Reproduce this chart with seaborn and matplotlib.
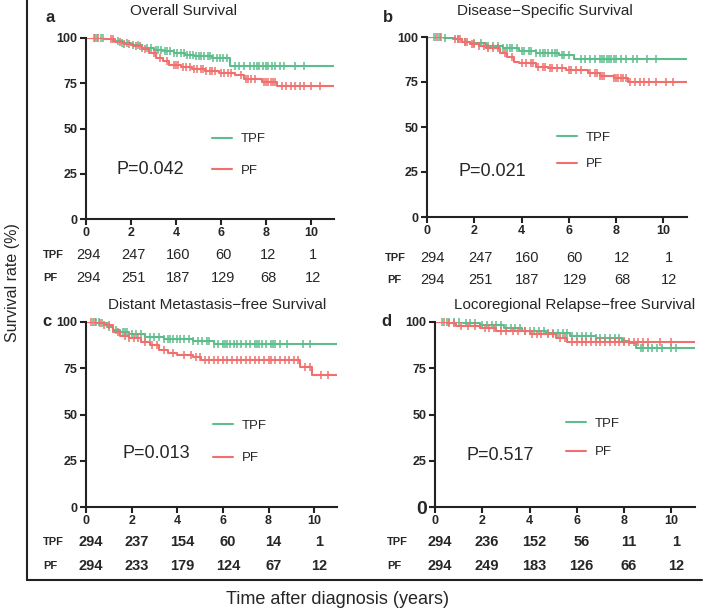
import numpy as np
import matplotlib
matplotlib.use("Agg")
import matplotlib.pyplot as plt
import matplotlib.transforms as mtransforms
from matplotlib.lines import Line2D
import seaborn as sns

sns.set_theme(style="ticks")
plt.rcParams['font.family'] = ['Liberation Sans', 'DejaVu Sans']

# ---- data ----
groups = ["TPF", "PF"]
risk_times = [0, 2, 4, 6, 8, 10]

# (a) Overall survival
a_tpf_t = [0, 0.8, 1.2, 1.6, 2.0, 2.5, 3.0, 3.4, 3.9, 4.4, 4.8, 5.6, 6.4]
a_tpf_s = [100, 99.3, 98.2, 97.0, 96.0, 94.5, 93.6, 92.8, 91.8, 90.6, 89.8, 89.2, 84.5]
a_pf_t = [0, 0.9, 1.3, 1.7, 2.1, 2.5, 2.8, 3.1, 3.4, 3.7, 4.2, 4.7, 5.3, 5.9, 6.6, 7.0, 7.8, 8.5]
a_pf_s = [100, 99.2, 98.0, 96.8, 95.5, 93.8, 91.5, 89.2, 87.2, 85.2, 84.2, 82.8, 81.8, 80.8, 79.4, 77.6, 75.8, 73.6]
a_tpf_cens = [0.35, 0.5, 0.65, 0.75, 1.4, 1.6, 1.8, 2.1, 2.3, 2.5, 2.7, 2.9, 3.1, 3.2, 3.35, 3.5,
              3.6, 3.75, 3.9, 4.05, 4.2, 4.35, 4.5, 4.6, 4.75, 4.9, 5.0, 5.1, 5.25, 5.4, 5.5, 5.65,
              5.8, 5.95, 6.1, 6.25, 6.6, 6.8, 7.0, 7.3, 7.45, 7.6, 7.7, 7.85, 8.0, 8.1, 8.25, 8.4,
              8.6, 8.8, 9.3, 9.7]
a_pf_cens = [0.4, 0.55, 1.1, 1.2, 1.5, 1.7, 1.9, 2.2, 2.4, 2.6, 3.0, 3.3, 3.6, 3.9, 4.0, 4.1,
             4.3, 4.45, 4.6, 4.8, 4.95, 5.1, 5.2, 5.35, 5.5, 5.6, 5.75, 6.0, 6.15, 6.3, 6.45, 6.9,
             7.1, 7.2, 7.35, 7.5, 7.9, 8.0, 8.1, 8.2, 8.3, 8.4, 8.7, 8.9, 9.1, 9.3, 9.5, 9.7,
             10.0, 10.4]
a_risk_tpf = [294, 247, 160, 60, 12, 1]
a_risk_pf = [294, 251, 187, 129, 68, 12]

# (b) Disease-specific survival
b_tpf_t = [0, 0.7, 1.1, 1.5, 1.8, 2.5, 3.2, 3.9, 4.6, 5.6, 6.2]
b_tpf_s = [100, 99.3, 98.7, 97.5, 96.5, 95.0, 93.7, 92.4, 91.0, 90.0, 87.6]
b_pf_t = [0, 1.2, 1.5, 1.8, 2.2, 2.5, 3.1, 3.4, 3.7, 3.9, 4.6, 5.1, 5.9, 6.8, 7.3, 7.9, 8.5]
b_pf_s = [100, 98.8, 97.4, 96.1, 95.0, 93.7, 91.0, 89.1, 86.3, 85.4, 83.5, 82.6, 81.7, 79.8, 78.5, 77.0, 74.8]
b_tpf_cens = [0.3, 0.45, 0.6, 0.75, 1.3, 1.6, 2.0, 2.3, 2.6, 2.8, 3.0, 3.2, 3.4, 3.5, 3.6, 3.8,
              4.0, 4.1, 4.3, 4.4, 4.6, 4.8, 4.9, 5.0, 5.1, 5.3, 5.4, 5.5, 5.7, 5.8, 6.0, 6.5, 6.7,
              6.9, 7.1, 7.3, 7.4, 7.5, 7.6, 7.7, 7.8, 7.9, 8.0, 8.2, 8.4, 8.7, 8.9, 9.3, 9.7]
b_pf_cens = [0.4, 0.55, 1.2, 1.3, 1.4, 1.6, 1.7, 1.9, 2.0, 2.2, 2.4, 2.6, 2.8, 3.0, 3.3, 3.6,
             4.0, 4.2, 4.4, 4.5, 4.7, 4.9, 5.0, 5.2, 5.3, 5.5, 5.7, 6.0, 6.1, 6.3, 6.5, 6.9, 7.1,
             7.2, 7.3, 7.4, 7.5, 7.9, 8.0, 8.1, 8.2, 8.3, 8.4, 8.6, 8.8, 9.0, 9.2, 9.4, 9.7,
             10.1, 10.4]
b_risk_tpf = [294, 247, 160, 60, 12, 1]
b_risk_pf = [294, 251, 187, 129, 68, 12]

# (c) Distant metastasis-free survival
c_tpf_t = [0, 0.6, 0.9, 1.2, 1.5, 1.9, 2.6, 3.4, 4.7, 5.6]
c_tpf_s = [100, 99.3, 97.5, 95.7, 94.4, 93.3, 92.1, 90.8, 89.9, 88.3]
c_pf_t = [0, 0.5, 0.8, 1.2, 1.5, 1.9, 2.4, 2.8, 3.2, 3.6, 4.0, 4.7, 5.05, 9.4, 9.9]
c_pf_s = [100, 99.4, 98.4, 94.8, 92.6, 91.2, 89.4, 87.6, 84.9, 83.5, 82.3, 81.3, 79.5, 75.9, 71.4]
c_tpf_cens = [0.3, 0.45, 0.55, 0.7, 1.0, 1.3, 1.6, 1.7, 1.8, 2.0, 2.2, 2.4, 2.6, 2.8, 3.0, 3.2,
              3.4, 3.6, 3.7, 3.8, 4.0, 4.1, 4.3, 4.5, 4.7, 4.9, 5.1, 5.3, 5.4, 5.6, 5.8, 6.0, 6.1,
              6.2, 6.3, 6.5, 6.6, 6.8, 7.0, 7.2, 7.4, 7.5, 7.6, 7.7, 7.9, 8.1, 8.2, 8.3, 8.5, 8.8,
              9.5, 9.8]
c_pf_cens = [0.2, 0.4, 0.6, 0.8, 1.0, 1.4, 1.7, 1.9, 2.1, 2.3, 2.6, 2.9, 3.1, 3.4, 3.8, 4.3,
             4.6, 4.8, 5.0, 5.2, 5.4, 5.6, 5.8, 6.0, 6.2, 6.4, 6.6, 6.8, 7.0, 7.2, 7.4, 7.6, 7.8,
             8.0, 8.1, 8.3, 8.5, 8.7, 8.9, 9.1, 9.3, 9.6, 9.8, 10.3, 10.6]
c_risk_tpf = [294, 237, 154, 60, 14, 1]
c_risk_pf = [294, 233, 179, 124, 67, 12]

# (d) Locoregional relapse-free survival
d_tpf_t = [0, 1.2, 1.9, 2.9, 3.7, 4.7, 5.7, 6.8, 7.9, 8.2, 8.5]
d_tpf_s = [100, 99.6, 98.4, 96.6, 95.1, 93.9, 92.4, 91.2, 89.7, 88.5, 86.0]
d_pf_t = [0, 0.5, 0.9, 1.9, 2.6, 4.0, 5.1, 5.6]
d_pf_s = [100, 99.3, 97.8, 96.6, 95.1, 93.3, 91.5, 89.4]
d_tpf_cens = [0.3, 0.5, 0.6, 0.8, 1.0, 1.3, 1.5, 1.7, 2.0, 2.2, 2.4, 2.6, 2.8, 3.0, 3.2, 3.4,
              3.6, 3.8, 4.0, 4.2, 4.4, 4.6, 4.8, 5.0, 5.2, 5.4, 5.6, 5.8, 6.0, 6.2, 6.4, 6.6, 6.8,
              7.0, 7.2, 7.4, 7.6, 7.8, 8.0, 8.7, 8.8, 9.0, 9.2, 9.4, 9.6, 10.0, 10.2]
d_pf_cens = [0.4, 0.6, 0.8, 1.1, 1.4, 1.7, 2.1, 2.3, 2.5, 2.8, 3.0, 3.3, 3.5, 3.8, 4.1, 4.3,
             4.5, 4.8, 5.0, 5.3, 5.5, 5.8, 6.0, 6.2, 6.4, 6.6, 6.8, 7.0, 7.2, 7.4, 7.6, 7.8, 8.0,
             8.2, 8.4, 8.6, 8.8, 9.0, 9.5, 10.0]
d_risk_tpf = [294, 236, 152, 56, 11, 1]
d_risk_pf = [294, 249, 183, 126, 66, 12]

titles = ["Overall Survival", "Disease\u2212Specific Survival",
          "Distant Metastasis\u2212free Survival", "Locoregional Relapse\u2212free Survival"]
letters = ["a", "b", "c", "d"]
p_values = ["P=0.042", "P=0.021", "P=0.013", "P=0.517"]

GREEN = "#5dbd8c"
RED = "#f0706e"

W, H = 709, 610
fig = plt.figure(figsize=(W / 100, H / 100), dpi=100)


def fx(px):
    return px / W


def fy(py):
    return 1 - py / H


# layout in reference pixels: axes (x0, x_at_11, y_at_100, y_at_0)
layout = [
    dict(ax=(86, 333.5, 38, 219), title=(183, 11), letter=(45, 18), p=(117, 170),
         leg=(212, 155), legsp=1.45, rows=(255, 278), lab=(43, 43), off=0.1, bold=False),
    dict(ax=(427, 687, 37, 217), title=(545, 11), letter=(383, 18), p=(458, 172),
         leg=(557, 151), legsp=1.05, rows=(258, 280), lab=(385, 387), off=0.25, bold=False),
    dict(ax=(86, 337, 322, 507), title=(217, 305), letter=(42, 322), p=(122, 454),
         leg=(213, 442), legsp=1.5, rows=(542, 566), lab=(43, 43), off=0.22, bold=True),
    dict(ax=(435, 695, 322, 507), title=(575, 305), letter=(381, 322), p=(467, 455),
         leg=(566, 438), legsp=1.2, rows=(542, 566), lab=(387, 387), off=0.2, bold=True),
]

curves = [
    ((a_tpf_t, a_tpf_s, a_tpf_cens), (a_pf_t, a_pf_s, a_pf_cens), (a_risk_tpf, a_risk_pf)),
    ((b_tpf_t, b_tpf_s, b_tpf_cens), (b_pf_t, b_pf_s, b_pf_cens), (b_risk_tpf, b_risk_pf)),
    ((c_tpf_t, c_tpf_s, c_tpf_cens), (c_pf_t, c_pf_s, c_pf_cens), (c_risk_tpf, c_risk_pf)),
    ((d_tpf_t, d_tpf_s, d_tpf_cens), (d_pf_t, d_pf_s, d_pf_cens), (d_risk_tpf, d_risk_pf)),
]


def draw_km(ax, t, s, cens, color):
    tt = list(t) + [11]
    ss = list(s) + [s[-1]]
    sns.lineplot(x=tt, y=ss, drawstyle="steps-post", color=color, lw=1.5,
                 ax=ax, sort=False, estimator=None)
    idx = np.searchsorted(t, cens, side="right") - 1
    cy = np.asarray(s)[idx]
    ax.plot(cens, cy, ls="none", marker="|", ms=6, mew=1.1, color=color, clip_on=False)


for i, lay in enumerate(layout):
    x0, x1, y100, y0 = lay["ax"]
    ax = fig.add_axes([fx(x0), fy(y0), (x1 - x0) / W, (y0 - y100) / H])
    (gt, gs, gc), (rt, rs, rc), (risk_g, risk_r) = curves[i]
    draw_km(ax, gt, gs, gc, GREEN)
    draw_km(ax, rt, rs, rc, RED)

    ax.set_xlim(0, 11)
    ax.set_ylim(0, 100)
    ax.set_xticks(risk_times)
    ax.set_yticks([0, 25, 50, 75, 100])
    ax.tick_params(length=4, width=1.5, color="#222222", labelsize=9, pad=2)
    for lbl in ax.get_xticklabels() + ax.get_yticklabels():
        lbl.set_fontweight("bold")
    if i == 3:
        ax.get_yticklabels()[0].set_fontsize(14)
    sns.despine(ax=ax)
    for sp in ("left", "bottom"):
        ax.spines[sp].set_linewidth(1.5)
        ax.spines[sp].set_color("#222222")
    ax.set_xlabel("")
    ax.set_ylabel("")

    # legend
    handles = [Line2D([], [], color=GREEN, lw=1.5), Line2D([], [], color=RED, lw=1.5)]
    ax.legend(handles, groups, loc="center left", bbox_to_anchor=(fx(lay["leg"][0]), fy(lay["leg"][1])),
              bbox_transform=fig.transFigure, frameon=False, fontsize=9.5, handlelength=1.5,
              handletextpad=0.7, labelspacing=lay["legsp"], borderpad=0, borderaxespad=0)

    fig.text(fx(lay["p"][0]), fy(lay["p"][1]), p_values[i], fontsize=13, va="center", ha="left")
    fig.text(fx(lay["title"][0]), fy(lay["title"][1]), titles[i], fontsize=11, ha="center", va="center")
    fig.text(fx(lay["letter"][0]), fy(lay["letter"][1]), letters[i], fontsize=12,
             fontweight="bold", ha="left", va="center")

    # numbers at risk
    trans = mtransforms.blended_transform_factory(ax.transData, fig.transFigure)
    w = "bold" if lay["bold"] else "normal"
    for row_y, lab_x, name, vals in zip(lay["rows"], lay["lab"], groups, (risk_g, risk_r)):
        fig.text(fx(lab_x), fy(row_y), name, fontsize=8, fontweight="bold", ha="left", va="center")
        for tx, v in zip(risk_times, vals):
            ax.text(tx + lay["off"], fy(row_y), str(v), transform=trans, ha="center", va="center",
                    fontsize=10.5, fontweight=w)

# outer frame (left and bottom edges)
fig.add_artist(Line2D([fx(27), fx(27)], [fy(0), fy(580)], color="#222222", lw=1.5))
fig.add_artist(Line2D([fx(27), fx(702)], [fy(580), fy(580)], color="#222222", lw=1.5))

fig.text(fx(13), fy(283), "Survival rate (%)", rotation=90, fontsize=11.5, ha="center", va="center")
fig.text(fx(338), fy(600), "Time after diagnosis (years)", fontsize=13, ha="center", va="center")

fig.savefig("out.png", dpi=100)
